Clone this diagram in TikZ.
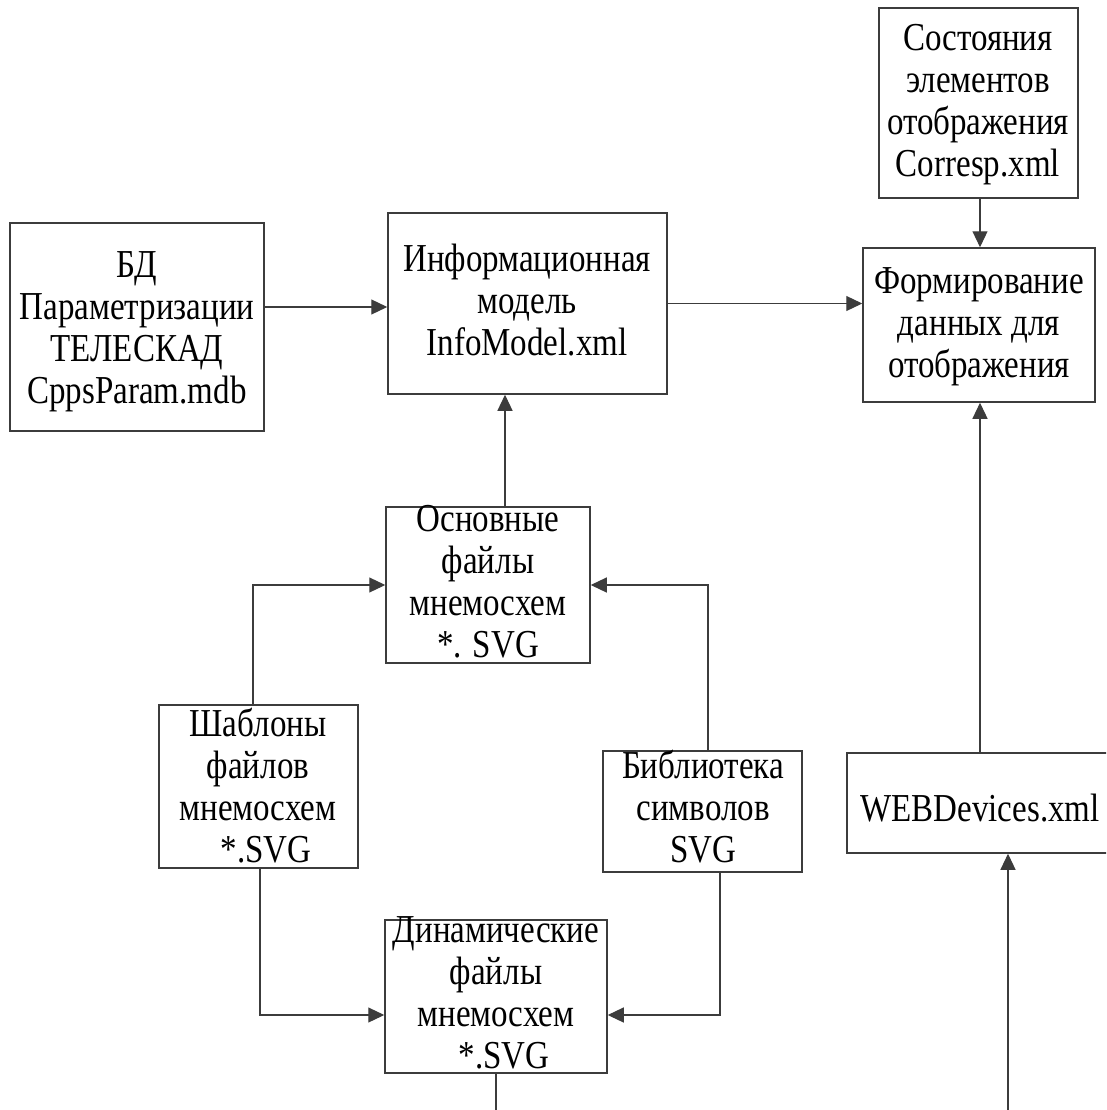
\documentclass[tikz,border=0pt]{standalone}
\usepackage{fontspec}
\usepackage{graphicx}
\setmainfont{Liberation Serif}
\usetikzlibrary{arrows.meta}
\definecolor{ln}{RGB}{60,60,60}
\newcommand\mtxt[1]{\scalebox{1}[1.2]{\begin{tabular}{@{}c@{}}#1\end{tabular}}}
\tikzset{
  boxn/.style={draw=ln, line width=1.5pt, inner sep=0pt, anchor=center},
  txt/.style={inner sep=0pt, anchor=center, font=\fontsize{33}{35}\selectfont},
  conn/.style={draw=ln, line width=1.2pt},
  arr/.style={conn, -{Triangle[length=16pt,width=15pt]}}
}
\begin{document}
\begin{tikzpicture}[x=1pt,y=-1pt]
\useasboundingbox (0,0) rectangle (1106,1110);
\clip (0,0) rectangle (1106,1110);
% boxes
\node[boxn, minimum width=254pt, minimum height=208pt] (bd) at (137,327) {};
\node[boxn, minimum width=279pt, minimum height=181pt] (info) at (527.5,303.5) {};
\node[boxn, minimum width=199pt, minimum height=190pt] (sost) at (978.5,103) {};
\node[boxn, minimum width=232pt, minimum height=154pt] (form) at (979,325) {};
\node[boxn, minimum width=204pt, minimum height=156pt] (osn) at (488,585) {};
\node[boxn, minimum width=199pt, minimum height=163pt] (shab) at (258.5,786.5) {};
\node[boxn, minimum width=199pt, minimum height=121pt] (bib) at (702.5,811.5) {};
\node[boxn, minimum width=261pt, minimum height=100pt] (web) at (977.5,803) {};
\node[boxn, minimum width=222pt, minimum height=153pt] (dyn) at (496,996.5) {};
% texts
\node[txt] (bdt) at (137,332) {\mtxt{БД\\Параметризации\\ТЕЛЕСКАД\\CppsParam.mdb}};
\node[txt] (infot) at (527,305) {\mtxt{Информационная\\модель\\InfoModel.xml}};
\node[txt] (sostt) at (978,105) {\mtxt{Состояния\\элементов\\отображения\\Corresp.xml}};
\node[txt] (formt) at (979,327) {\mtxt{Формирование\\данных для\\отображения}};
\node[txt] (osnt) at (488,586) {\mtxt{Основные\\файлы\\мнемосхем\\{}*. SVG}};
\node[txt] (shabt) at (258,791) {\mtxt{Шаблоны\\файлов\\мнемосхем\\{}\ \ *.SVG}};
\node[txt] (bibt) at (703,812) {\mtxt{Библиотека\\символов\\SVG}};
\node[txt] (webt) at (980,813) {\mtxt{WEBDevices.xml}};
\node[txt] (dynt) at (496,997) {\mtxt{Динамические\\файлы\\мнемосхем\\{}\ \ *.SVG}};
% helper coordinates
\coordinate (xa) at (505,0);
\coordinate (xl) at (253,0);
\coordinate (xr) at (708,0);
\coordinate (xsl) at (260,0);
\coordinate (xbr) at (720,0);
\coordinate (xf) at (980,0);
\coordinate (xw) at (1008,0);
\coordinate (xd) at (496,0);
\coordinate (yd) at (0,1015);
\coordinate (ybot) at (0,1112);
\coordinate (ybd) at (0,307);
% connectors
\draw[arr] (bd.east |- ybd) -- (info.west |- ybd);
\draw[arr] (info.east) -- (form.west |- info.east);
\draw[arr] (osn.north -| xa) -- (info.south -| xa);
\draw[arr] (sost.south -| xf) -- (form.north -| xf);
\draw[arr] (web.north -| xf) -- (form.south -| xf);
\draw[arr] (shab.north -| xl) |- (osn.west);
\draw[arr] (bib.north -| xr) |- (osn.east);
\draw[arr] (shab.south -| xsl) |- (dyn.west |- yd);
\draw[arr] (bib.south -| xbr) |- (dyn.east |- yd);
\draw[conn] (dyn.south -| xd) -- (xd |- ybot);
\draw[arr] (xw |- ybot) -- (web.south -| xw);
\end{tikzpicture}
\end{document}
